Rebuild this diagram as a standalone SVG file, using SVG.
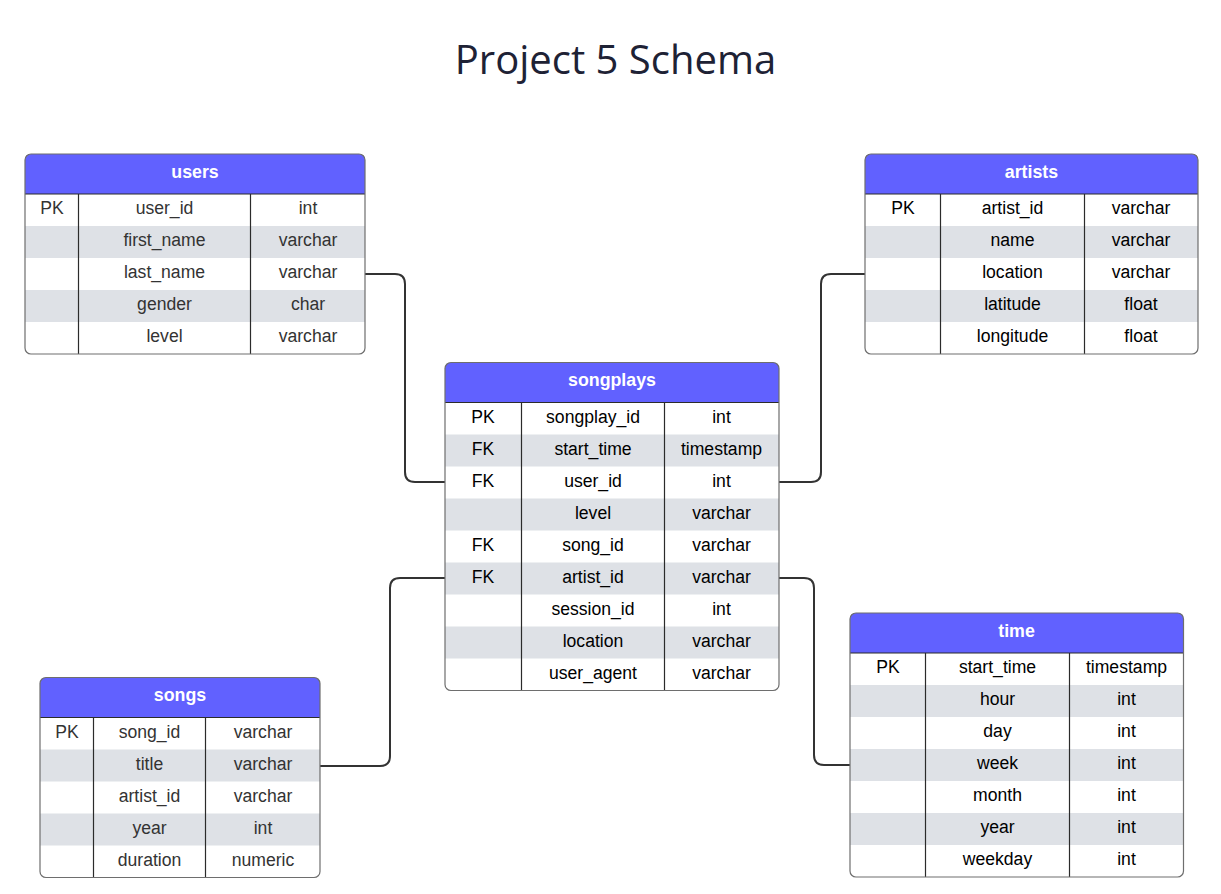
<svg xmlns="http://www.w3.org/2000/svg" width="1221" height="894" viewBox="0 0 1221 894">
<style>
.bg{fill:#ffffff}
.body{fill:#ffffff;stroke:none}
.outline{fill:none;stroke:#6e6e6e;stroke-width:1.2}
.hdr{fill:#6161ff}
.gray{fill:#dee1e6}
.div{stroke:#2b2b2b;stroke-width:1.2}
.hl{stroke:#3a3a8a;stroke-width:1}
.ht{font-family:"Liberation Sans",Arial,sans-serif;font-size:17.8px;font-weight:bold;fill:#ffffff;text-anchor:middle}
.t{font-family:"Liberation Sans",Arial,sans-serif;font-size:17.6px;fill:#000000;text-anchor:middle}
.t2{font-family:"Liberation Sans",Arial,sans-serif;font-size:17.6px;fill:#333333;text-anchor:middle}
.title{font-family:"Open Sans","Noto Sans",sans-serif;font-size:40px;fill:#1e2235;text-anchor:middle}
.conn{fill:none;stroke:#333333;stroke-width:2}
</style>
<rect class="bg" x="0" y="0" width="1221" height="894"/>
<text class="title" x="615.5" y="74">Project 5 Schema</text>

<g id="connectors">
<path class="conn" d="M365,274 H395 Q405,274 405,284 V472 Q405,482 415,482 H445"/>
<path class="conn" d="M865,274 H831 Q821,274 821,284 V472 Q821,482 811,482 H779"/>
<path class="conn" d="M320,766 H380 Q390,766 390,756 V588 Q390,578 400,578 H445"/>
<path class="conn" d="M779,578 H804 Q814,578 814,588 V755 Q814,765 824,765 H850"/>
</g>

<g id="users">
<rect class="body" x="25" y="154" width="340" height="200" rx="6"/>
<path class="hdr" d="M25,194 V160 Q25,154 31,154 H359 Q365,154 365,160 V194 Z"/>
<rect class="gray" x="25" y="226" width="340" height="32"/>
<rect class="gray" x="25" y="290" width="340" height="32"/>
<line class="div" x1="25" y1="194" x2="365" y2="194"/>
<line class="div" x1="78.5" y1="194" x2="78.5" y2="354"/>
<line class="div" x1="250.5" y1="194" x2="250.5" y2="354"/>
<rect class="outline" x="25" y="154" width="340" height="200" rx="6"/>
<text class="ht" x="195" y="177.5">users</text>
<text class="t2" x="52" y="214">PK</text>
<text class="t2" x="164.5" y="214">user_id</text>
<text class="t2" x="308" y="214">int</text>
<text class="t2" x="164.5" y="246">first_name</text>
<text class="t2" x="308" y="246">varchar</text>
<text class="t2" x="164.5" y="278">last_name</text>
<text class="t2" x="308" y="278">varchar</text>
<text class="t2" x="164.5" y="310">gender</text>
<text class="t2" x="308" y="310">char</text>
<text class="t2" x="164.5" y="342">level</text>
<text class="t2" x="308" y="342">varchar</text>
</g>

<g id="artists">
<rect class="body" x="865" y="154" width="333" height="200" rx="6"/>
<path class="hdr" d="M865,194 V160 Q865,154 871,154 H1192 Q1198,154 1198,160 V194 Z"/>
<rect class="gray" x="865" y="226" width="333" height="32"/>
<rect class="gray" x="865" y="290" width="333" height="32"/>
<line class="div" x1="865" y1="194" x2="1198" y2="194"/>
<line class="div" x1="940.5" y1="194" x2="940.5" y2="354"/>
<line class="div" x1="1084.5" y1="194" x2="1084.5" y2="354"/>
<rect class="outline" x="865" y="154" width="333" height="200" rx="6"/>
<text class="ht" x="1031.5" y="177.5">artists</text>
<text class="t" x="903" y="214">PK</text>
<text class="t" x="1012.5" y="214">artist_id</text>
<text class="t" x="1141" y="214">varchar</text>
<text class="t" x="1012.5" y="246">name</text>
<text class="t" x="1141" y="246">varchar</text>
<text class="t" x="1012.5" y="278">location</text>
<text class="t" x="1141" y="278">varchar</text>
<text class="t" x="1012.5" y="310">latitude</text>
<text class="t" x="1141" y="310">float</text>
<text class="t" x="1012.5" y="342">longitude</text>
<text class="t" x="1141" y="342">float</text>
</g>

<g id="songplays">
<rect class="body" x="445" y="362.5" width="334" height="328" rx="6"/>
<path class="hdr" d="M445,402.5 V368.5 Q445,362.5 451,362.5 H773 Q779,362.5 779,368.5 V402.5 Z"/>
<rect class="gray" x="445" y="434.5" width="334" height="32"/>
<rect class="gray" x="445" y="498.5" width="334" height="32"/>
<rect class="gray" x="445" y="562.5" width="334" height="32"/>
<rect class="gray" x="445" y="626.5" width="334" height="32"/>
<line class="div" x1="445" y1="402.5" x2="779" y2="402.5"/>
<line class="div" x1="521.5" y1="402.5" x2="521.5" y2="690.5"/>
<line class="div" x1="664.5" y1="402.5" x2="664.5" y2="690.5"/>
<rect class="outline" x="445" y="362.5" width="334" height="328" rx="6"/>
<text class="ht" x="612" y="386">songplays</text>
<text class="t" x="483" y="422.5">PK</text>
<text class="t" x="593" y="422.5">songplay_id</text>
<text class="t" x="721.5" y="422.5">int</text>
<text class="t" x="483" y="454.5">FK</text>
<text class="t" x="593" y="454.5">start_time</text>
<text class="t" x="721.5" y="454.5">timestamp</text>
<text class="t" x="483" y="486.5">FK</text>
<text class="t" x="593" y="486.5">user_id</text>
<text class="t" x="721.5" y="486.5">int</text>
<text class="t" x="593" y="518.5">level</text>
<text class="t" x="721.5" y="518.5">varchar</text>
<text class="t" x="483" y="550.5">FK</text>
<text class="t" x="593" y="550.5">song_id</text>
<text class="t" x="721.5" y="550.5">varchar</text>
<text class="t" x="483" y="582.5">FK</text>
<text class="t" x="593" y="582.5">artist_id</text>
<text class="t" x="721.5" y="582.5">varchar</text>
<text class="t" x="593" y="614.5">session_id</text>
<text class="t" x="721.5" y="614.5">int</text>
<text class="t" x="593" y="646.5">location</text>
<text class="t" x="721.5" y="646.5">varchar</text>
<text class="t" x="593" y="678.5">user_agent</text>
<text class="t" x="721.5" y="678.5">varchar</text>
</g>

<g id="songs">
<rect class="body" x="40" y="677.5" width="280" height="200" rx="6"/>
<path class="hdr" d="M40,717.5 V683.5 Q40,677.5 46,677.5 H314 Q320,677.5 320,683.5 V717.5 Z"/>
<rect class="gray" x="40" y="749.5" width="280" height="32"/>
<rect class="gray" x="40" y="813.5" width="280" height="32"/>
<line class="div" x1="40" y1="717.5" x2="320" y2="717.5"/>
<line class="div" x1="93.5" y1="717.5" x2="93.5" y2="877.5"/>
<line class="div" x1="205.5" y1="717.5" x2="205.5" y2="877.5"/>
<rect class="outline" x="40" y="677.5" width="280" height="200" rx="6"/>
<text class="ht" x="180" y="701">songs</text>
<text class="t2" x="67" y="737.5">PK</text>
<text class="t2" x="149.5" y="737.5">song_id</text>
<text class="t2" x="263" y="737.5">varchar</text>
<text class="t2" x="149.5" y="769.5">title</text>
<text class="t2" x="263" y="769.5">varchar</text>
<text class="t2" x="149.5" y="801.5">artist_id</text>
<text class="t2" x="263" y="801.5">varchar</text>
<text class="t2" x="149.5" y="833.5">year</text>
<text class="t2" x="263" y="833.5">int</text>
<text class="t2" x="149.5" y="865.5">duration</text>
<text class="t2" x="263" y="865.5">numeric</text>
</g>

<g id="time">
<rect class="body" x="850" y="613" width="333.5" height="264" rx="6"/>
<path class="hdr" d="M850,653 V619 Q850,613 856,613 H1177.5 Q1183.5,613 1183.5,619 V653 Z"/>
<rect class="gray" x="850" y="685" width="333.5" height="32"/>
<rect class="gray" x="850" y="749" width="333.5" height="32"/>
<rect class="gray" x="850" y="813" width="333.5" height="32"/>
<line class="div" x1="850" y1="653" x2="1183.5" y2="653"/>
<line class="div" x1="925.5" y1="653" x2="925.5" y2="877"/>
<line class="div" x1="1069.5" y1="653" x2="1069.5" y2="877"/>
<rect class="outline" x="850" y="613" width="333.5" height="264" rx="6"/>
<text class="ht" x="1016.5" y="636.5">time</text>
<text class="t" x="888" y="673">PK</text>
<text class="t" x="997.5" y="673">start_time</text>
<text class="t" x="1126.5" y="673">timestamp</text>
<text class="t" x="997.5" y="705">hour</text>
<text class="t" x="1126.5" y="705">int</text>
<text class="t" x="997.5" y="737">day</text>
<text class="t" x="1126.5" y="737">int</text>
<text class="t" x="997.5" y="769">week</text>
<text class="t" x="1126.5" y="769">int</text>
<text class="t" x="997.5" y="801">month</text>
<text class="t" x="1126.5" y="801">int</text>
<text class="t" x="997.5" y="833">year</text>
<text class="t" x="1126.5" y="833">int</text>
<text class="t" x="997.5" y="865">weekday</text>
<text class="t" x="1126.5" y="865">int</text>
</g>
</svg>
